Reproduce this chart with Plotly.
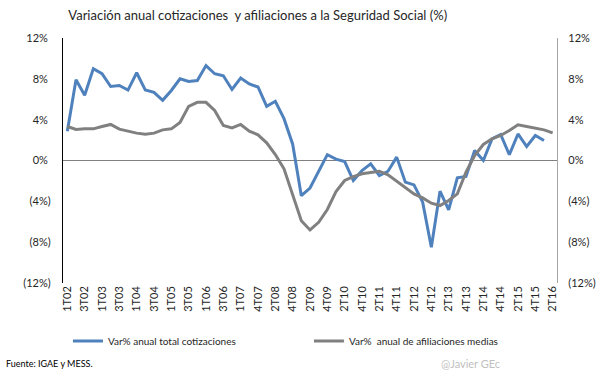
import plotly.graph_objects as go

quarters = ["1T02", "2T02", "3T02", "4T02", "1T03", "2T03", "3T03", "4T03",
            "1T04", "2T04", "3T04", "4T04", "1T05", "2T05", "3T05", "4T05",
            "1T06", "2T06", "3T06", "4T06", "1T07", "2T07", "4T07",
            "1T08", "2T08", "3T08", "4T08", "1T09", "2T09", "3T09", "4T09",
            "1T10", "2T10", "3T10", "4T10", "1T11", "2T11", "3T11", "4T11",
            "1T12", "2T12", "3T12", "4T12", "1T13", "2T13", "3T13", "4T13",
            "1T14", "2T14", "3T14", "4T14", "1T15", "2T15", "3T15", "4T15",
            "1T16", "2T16"]

cotizaciones = [2.87, 7.9, 6.4, 9.0, 8.5, 7.25, 7.35, 6.9, 8.6, 6.9,
                6.67, 5.9, 6.86, 8.0, 7.75, 7.84, 9.3, 8.5, 8.3, 6.96,
                8.07, 7.5, 7.2, 5.3, 5.8, 4.1, 1.6, -3.45, -2.7, -1.05,
                0.57, 0.13, -0.1, -1.96, -0.98, -0.33, -1.47, -1.05, 0.33, -2.12,
                -2.39, -4.08, -8.5, -3.0, -4.84, -1.7, -1.57, 0.98, 0.0, 2.12,
                2.55, 0.56, 2.6, 1.37, 2.45, 1.96, None]

afiliaciones = [3.33, 3.04, 3.1, 3.1, 3.33, 3.53, 3.07, 2.87, 2.68, 2.58,
                2.68, 3.0, 3.1, 3.73, 5.3, 5.7, 5.7, 4.9, 3.43, 3.2,
                3.53, 2.87, 2.52, 1.73, 0.59, -0.81, -3.27, -5.9, -6.8, -6.05,
                -4.8, -3.05, -1.96, -1.57, -1.3, -1.2, -1.05, -1.4, -2.03, -2.6,
                -3.27, -3.66, -4.18, -4.41, -3.92, -3.27, -1.14, 0.49, 1.57, 2.13,
                2.45, 2.94, 3.5, 3.33, 3.2, 3.0, 2.7]

y_ticks = [12, 8, 4, 0, -4, -8, -12]
y_tick_labels = ["12%", "8%", "4%", "0%", "(4%)", "(8%)", "(12%)"]
y_tick_labels_left = ["12%\u00a0", "8%\u00a0", "4%\u00a0", "0%\u00a0", "(4%)", "(8%)", "(12%)"]

FONT = "Lato, 'Open Sans', sans-serif"
TXT = "#262626"

fig = go.Figure()
fig.add_trace(go.Scatter(x=quarters, y=cotizaciones, mode="lines",
                         name="Var% anual total cotizaciones",
                         line=dict(color="#4F81BD", width=3)))
fig.add_trace(go.Scatter(x=quarters, y=afiliaciones, mode="lines",
                         name="Var%  anual de afiliaciones medias",
                         line=dict(color="#808080", width=3)))
# invisible trace for right axis
fig.add_trace(go.Scatter(x=quarters, y=afiliaciones, mode="lines", yaxis="y2",
                         showlegend=False, hoverinfo="skip",
                         line=dict(color="rgba(0,0,0,0)", width=0)))

fig.update_layout(
    width=605, height=378,
    margin=dict(l=63, r=48, t=38, b=95, autoexpand=False),
    paper_bgcolor="white", plot_bgcolor="white",
    font=dict(family=FONT, size=11, color=TXT),
    title=dict(text="Variación anual cotizaciones  y afiliaciones a la Seguridad Social (%)",
               x=0.426, xanchor="center", y=0.96, yanchor="middle",
               font=dict(family=FONT, size=13, color=TXT)),
    xaxis=dict(type="category", categoryorder="array", categoryarray=quarters,
               range=[-0.5, len(quarters) - 0.5], automargin=False,
               tickmode="array", tickvals=quarters[::2], ticktext=quarters[::2],
               tickangle=-90, showgrid=False, showline=False, ticks="",
               tickfont=dict(size=11, color=TXT), zeroline=False),
    yaxis=dict(range=[-12, 12], tickmode="array", tickvals=y_ticks,
               ticktext=y_tick_labels_left, showgrid=False, automargin=False,
               zeroline=True, zerolinecolor="#808080", zerolinewidth=1,
               showline=True, linecolor="black", linewidth=1.2,
               ticks="", ticklabelstandoff=9, tickfont=dict(size=11, color=TXT)),
    yaxis2=dict(range=[-12, 12], overlaying="y", side="right", automargin=False,
                tickmode="array", tickvals=y_ticks, ticktext=y_tick_labels,
                showgrid=False, zeroline=False, showline=True,
                linecolor="#A6A6A6", linewidth=1.2, ticks="",
                ticklabelstandoff=8, tickfont=dict(size=11, color=TXT)),
    legend=dict(orientation="h", x=0.01, xanchor="left", y=-0.237,
                yanchor="middle", font=dict(size=10, color=TXT),
                itemwidth=30, entrywidth=196, entrywidthmode="pixels",
                tracegroupgap=0, bgcolor="rgba(0,0,0,0)"),
    showlegend=True,
)

fig.add_annotation(text="Fuente: IGAE y MESS.", xref="paper", yref="paper",
                   x=-0.12, y=-0.33, xanchor="left", yanchor="middle",
                   showarrow=False, font=dict(size=9, color="black", family=FONT))
fig.add_annotation(text="@Javier GEc", xref="paper", yref="paper",
                   x=0.824, y=-0.33, xanchor="center", yanchor="middle",
                   showarrow=False, font=dict(size=11, color="#BFBFBF", family=FONT))

fig.write_html("out.html", config={"displayModeBar": False},
               post_script="document.body.style.margin='0';")
